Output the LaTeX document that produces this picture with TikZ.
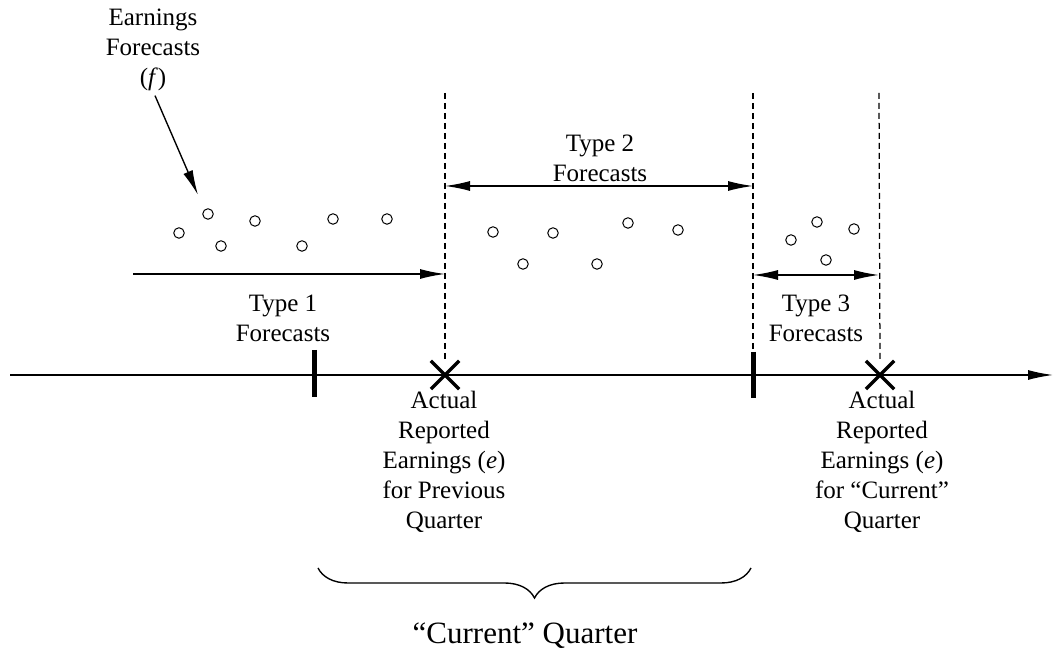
\documentclass[tikz,border=0pt]{standalone}
\usepackage{fontspec}
\setmainfont{Liberation Serif}[Ligatures=TeX]
\newfontfamily\timesfont{Liberation Serif}[Ligatures=TeX]
\usetikzlibrary{arrows.meta,shapes.misc,decorations.pathreplacing}
\tikzset{
    >={Latex[length=10pt,width=4pt]},
    lbl/.style={align=center, font=\timesfont\fontsize{10}{12}\selectfont, inner sep=0pt},
    fc/.style={circle, draw, minimum size=4.2pt, inner sep=0pt, line width=0.4pt},
    xmark/.style={cross out, draw, line width=1.3pt, minimum size=10pt, inner sep=0pt},
    qtick/.style={line width=2pt},
    guide/.style={dash pattern=on 2.4pt off 1.6pt, line width=0.5pt}}

\begin{document}
\begin{tikzpicture}[x=0.4pt, y=-0.4pt, line width=0.55pt]
    \useasboundingbox (0,0) rectangle (1053,657);

    % time line
    \coordinate (tstart) at (10,375);
    \coordinate (tend) at (1053,375);
    \draw[->] (tstart) -- (tend);

    % quarter ends and reported earnings
    \coordinate (q1) at (314,375);
    \coordinate (q2) at (753,375);
    \draw[qtick] (q1) ++(0,-25) -- ++(0,47);
    \draw[qtick] (q2) ++(0,-23) -- ++(0,46);
    \node[xmark] (x1) at (445,375) {};
    \node[xmark] (x2) at (880,375) {};

    % dashed guides
    \coordinate (g1) at (445,93);
    \coordinate (g2) at (753,93);
    \coordinate (g3) at (879,93);
    \coordinate (g2b) at (753,352);
    \draw[guide] (g1) -- (x1.north);
    \draw[guide] (g2) -- (g2b);
    \draw[guide] (g3) -- (x2.north);

    % forecast windows
    \coordinate (a1) at (133,274);
    \coordinate (b1) at (445,274);
    \coordinate (a2) at (445,186);
    \coordinate (b2) at (753,186);
    \coordinate (a3) at (753,275);
    \coordinate (b3) at (879,275);
    \draw[->] (a1) -- (b1);
    \draw[<->] (a2) -- (b2);
    \draw[<->] (a3) -- (b3);

    \node[lbl] (t1) at (283,318) {Type 1\\Forecasts};
    \node[lbl] (t2) at (600,158) {Type 2\\Forecasts};
    \node[lbl] (t3) at (816,318) {Type 3\\Forecasts};

    % forecasts
    \foreach \x/\y [count=\i] in {179/233, 208/214, 221/246, 255/221, 302/246, 333/219, 387/219,
        493/232, 523/264, 553/233, 597/264, 628/223, 678/230,
        791/240, 817/222, 854/229, 826/260}
        \node[fc] (f\i) at (\x,\y) {};

    \node[lbl] (earn) at (153,50) {Earnings\\Forecasts\\(\textit{f})};
    \coordinate (fpt) at (198,195);
    \draw[->] (earn.south) ++(2,4) -- (fpt);

    \node[lbl] (e1) at (444,462) {Actual\\Reported\\Earnings (\textit{e})\\for Previous\\Quarter};
    \node[lbl] (e2) at (882,462) {Actual\\Reported\\Earnings (\textit{e})\\for “Current”\\Quarter};

    % current quarter
    \coordinate (c1) at (318,568);
    \coordinate (c2) at (751,568);
    \draw[decorate, decoration={brace, mirror, amplitude=12pt}] (c1) -- (c2);
    \node[lbl, font=\timesfont\fontsize{12.4}{14}\selectfont] (cq) at (525,636) {“Current” Quarter};

\end{tikzpicture}
\end{document}
